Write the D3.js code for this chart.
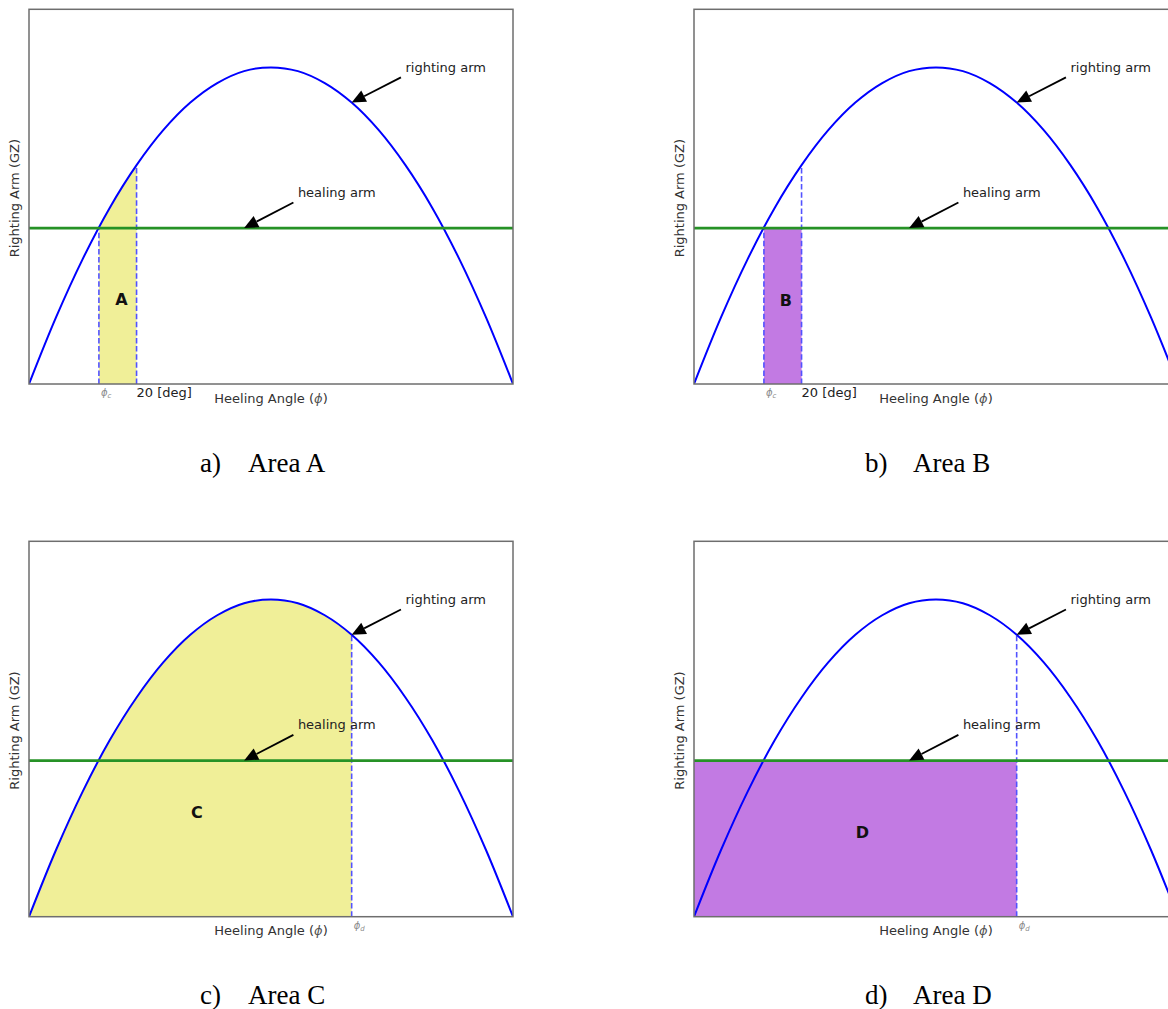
<!DOCTYPE html>
<html><head><meta charset="utf-8">
<script src="https://cdn.jsdelivr.net/npm/d3@7"></script>
<style>html,body{margin:0;padding:0;background:#fff;overflow:hidden}</style>
</head><body><svg id="c" width="1168" height="1009"></svg>
<script>
// ---------------- data ----------------
const angles = [0,5,10,15,20,25,30,35,40,45,50,55,60,65,70,75,80,85,90];
const rightingArm = [0,0.177,0.334,0.470,0.584,0.678,0.751,0.803,0.835,0.845,0.835,0.803,0.751,0.678,0.584,0.470,0.334,0.177,0];
const healingArm = 0.416;
const phiC = 13, phi20 = 20, phiD = 60;
const panelIds = ["a","b","c","d"];
const captionTexts = ["Area A","Area B","Area C","Area D"];
const areaLabels = ["A","B","C","D"];
const areaLabelAngle = [17.2,17.1,31.2,31.3];
const areaLabelGZ = [0.227,0.224,0.278,0.225];
const annotationTexts = ["righting arm","healing arm"];
const annotationTipAngle = [60,40];
const annotationTextAngle = [70,50];
const annotationTextGZ = [0.845,0.511];
const tickLabel20 = "20 [deg]";
const xAxisLabel = "Heeling Angle (";
const yAxisLabel = "Righting Arm (GZ)";

const gzAt = a => rightingArm[angles.indexOf(a)];
const curveData = angles.map((a,i)=>({a, v:rightingArm[i]}));

// ---------------- layout ----------------
const svg = d3.select("#c");
const PW = 484;
const layout = [
  {x:29, y:9.3, h:374.7, fill:"under", x0:phiC, x1:phi20, color:"#f0ef98", mark:"c"},
  {x:694, y:9.3, h:374.7, fill:"rect", x0:phiC, x1:phi20, color:"#c27ae3", mark:"c"},
  {x:29, y:541.3, h:375.4, fill:"under", x0:0, x1:phiD, color:"#f0ef98", mark:"d"},
  {x:694, y:541.3, h:375.4, fill:"rect", x0:0, x1:phiD, color:"#c27ae3", mark:"d"}
];
const FONT = "DejaVu Sans, sans-serif";

layout.forEach((L, pi) => {
  const g = svg.append("g").attr("transform", `translate(${L.x},${L.y})`);
  const xs = d3.scaleLinear().domain([0,90]).range([0,PW]);
  const ys = d3.scaleLinear().domain([0,1]).range([L.h,0]);
  const clipId = "clip"+pi, fillClip = "fclip"+pi;
  const defs = g.append("defs");
  defs.append("clipPath").attr("id",clipId).append("rect").attr("x",0).attr("y",0).attr("width",PW).attr("height",L.h);
  defs.append("clipPath").attr("id",fillClip).append("rect")
    .attr("x",xs(L.x0)).attr("y",0).attr("width",xs(L.x1)-xs(L.x0)).attr("height",L.h);
  const plot = g.append("g").attr("clip-path",`url(#${clipId})`);

  // fill
  if (L.fill === "under") {
    const area = d3.area().x(d=>xs(d.a)).y0(ys(0)).y1(d=>ys(d.v)).curve(d3.curveCatmullRom);
    plot.append("path").datum(curveData).attr("d",area).attr("fill",L.color)
      .attr("clip-path",`url(#${fillClip})`);
  } else {
    plot.append("rect").attr("x",xs(L.x0)).attr("y",ys(healingArm))
      .attr("width",xs(L.x1)-xs(L.x0)).attr("height",ys(0)-ys(healingArm)).attr("fill",L.color);
  }

  // dashed verticals
  const dashes = L.mark === "c" ? [[phiC, healingArm],[phi20, gzAt(phi20)]] : [[phiD, gzAt(phiD)]];
  dashes.forEach(([a,v]) => {
    plot.append("line").attr("x1",xs(a)).attr("x2",xs(a)).attr("y1",ys(0)).attr("y2",ys(v))
      .attr("stroke","#5252ff").attr("stroke-width",1.6).attr("stroke-dasharray","5.5,2.6");
  });

  // righting arm curve
  const line = d3.line().x(d=>xs(d.a)).y(d=>ys(d.v)).curve(d3.curveCatmullRom);
  plot.append("path").datum(curveData).attr("d",line).attr("fill","none")
    .attr("stroke","#0000ff").attr("stroke-width",2);

  // healing arm
  plot.append("line").attr("x1",xs(0)).attr("x2",xs(90)).attr("y1",ys(healingArm)).attr("y2",ys(healingArm))
    .attr("stroke","#269226").attr("stroke-width",2.8);

  // frame
  g.append("rect").attr("x",0).attr("y",0).attr("width",PW).attr("height",L.h)
    .attr("fill","none").attr("stroke","#6e6e6e").attr("stroke-width",1.5);

  // area label
  g.append("text").attr("x",xs(areaLabelAngle[pi])).attr("y",ys(areaLabelGZ[pi]))
    .attr("text-anchor","middle").attr("dy","0.36em")
    .attr("font-family",FONT).attr("font-weight","bold").attr("font-size",16).attr("fill","#111")
    .text(areaLabels[pi]);

  // annotations
  annotationTexts.forEach((t, ai) => {
    const tx = xs(annotationTextAngle[ai]), ty = ys(annotationTextGZ[ai]);
    g.append("text").attr("x",tx).attr("y",ty).attr("dy","0.35em")
      .attr("font-family",FONT).attr("font-size",13).attr("fill","#222").text(t);
    const tipA = annotationTipAngle[ai];
    const tipV = ai === 0 ? gzAt(tipA) : healingArm;
    const px = xs(tipA), py = ys(tipV);
    const sx = tx - 4.5, sy = ty + 10;
    const dx = px - sx, dy = py - sy, len = Math.hypot(dx,dy);
    const ux = dx/len, uy = dy/len, nx = -uy, ny = ux;
    const HL = 14, HW = 6.3;
    const bx = px - ux*HL, by = py - uy*HL;
    g.append("line").attr("x1",sx).attr("y1",sy).attr("x2",bx).attr("y2",by)
      .attr("stroke","#000").attr("stroke-width",1.8);
    g.append("path").attr("d",`M${px},${py}L${bx+nx*HW},${by+ny*HW}L${bx-nx*HW},${by-ny*HW}Z`)
      .attr("fill","#000");
  });

  // tick labels
  const phiLabel = (a, sub) => {
    const t = g.append("text").attr("x",xs(a)+2).attr("y",L.h+12.5)
      .attr("font-family",FONT).attr("font-size",10).attr("fill","#8a8a8a");
    t.append("tspan").attr("font-style","italic").text("ϕ");
    t.append("tspan").attr("font-size",7).attr("dy",2).attr("font-style","italic").text(sub);
  };
  if (L.mark === "c") {
    phiLabel(phiC, "c");
    g.append("text").attr("x",xs(phi20)).attr("y",L.h+13.2)
      .attr("font-family",FONT).attr("font-size",13).attr("fill","#222").text(tickLabel20);
  } else {
    phiLabel(phiD, "d");
  }

  // axis labels
  const xl = g.append("text").attr("x",PW/2).attr("y",L.h+18.6).attr("text-anchor","middle")
    .attr("font-family",FONT).attr("font-size",13).attr("fill","#333");
  xl.append("tspan").text(xAxisLabel);
  xl.append("tspan").attr("font-style","italic").attr("fill","#555").text("ϕ");
  xl.append("tspan").text(")");
  g.append("text").attr("transform",`translate(-10.5,${L.h/2+1.5}) rotate(-90)`)
    .attr("text-anchor","middle").attr("font-family",FONT).attr("font-size",13).attr("fill","#333")
    .text(yAxisLabel);

  // caption
  g.append("text").attr("x",171).attr("y",463).attr("font-family","Liberation Serif, Times New Roman, serif")
    .attr("font-size",27).attr("fill","#000").text(panelIds[pi] + ")");
  g.append("text").attr("x",219).attr("y",463).attr("font-family","Liberation Serif, Times New Roman, serif")
    .attr("font-size",27).attr("fill","#000").text(captionTexts[pi]);
});
</script></body></html>
